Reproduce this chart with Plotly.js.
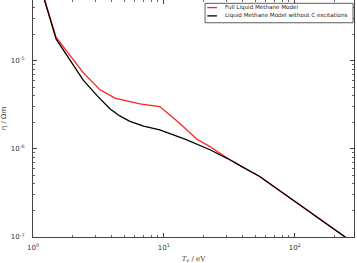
<!DOCTYPE html>
<html>
<head>
<meta charset="utf-8">
<script src="https://cdn.plot.ly/plotly-3.0.1.min.js"></script>
<style>
html,body{margin:0;padding:0;background:#fff;}
#chart{width:357px;height:263px;}
</style>
</head>
<body>
<div id="chart"></div>
<script>
// Data
var seriesNames = ["Full Liquid Methane Model", "Liquid Methane Model without C excitations"];

var tFull   = [1, 1.5, 2.42, 3.25, 4.23, 6.56, 9.3, 13.2, 17.8, 22.5, 31, 40, 54, 75, 109, 160, 241, 290];
var etaFull = [1.33e-4, 1.84e-5, 7.3e-6, 4.66e-6, 3.75e-6, 3.24e-6, 3.01e-6, 1.95e-6, 1.29e-6, 1.06e-6, 7.7e-7, 6.2e-7, 4.85e-7, 3.44e-7, 2.32e-7, 1.57e-7, 1.0e-7, 8.3e-8];

var tNoC   = [1, 1.5, 2.42, 3.1, 3.87, 4.6, 5.5, 7, 9.3, 14.5, 22.5, 31, 40, 54, 75, 109, 160, 241, 290];
var etaNoC = [1.33e-4, 1.76e-5, 6.0e-6, 3.98e-6, 2.85e-6, 2.36e-6, 2.05e-6, 1.81e-6, 1.64e-6, 1.29e-6, 9.75e-7, 7.7e-7, 6.2e-7, 4.85e-7, 3.44e-7, 2.32e-7, 1.57e-7, 1.0e-7, 8.3e-8];

var xTickVals = [1, 10, 100];
var xTickText = ["10<sup>0</sup>", "10<sup>1</sup>", "10<sup>2</sup>"];
var xMinorVals = [2,3,4,5,6,7,8,9,20,30,40,50,60,70,80,90,200];
var yTickVals = [1e-7, 1e-6, 1e-5];
var yTickText = ["10<sup>-7</sup>", "10<sup>-6</sup>", "10<sup>-5</sup>"];
var yMinorVals = [2e-7,3e-7,4e-7,5e-7,6e-7,7e-7,8e-7,9e-7,2e-6,3e-6,4e-6,5e-6,6e-6,7e-6,8e-6,9e-6,2e-5,3e-5,4e-5];

var xTitle = "<i>T</i><sub>e</sub> / eV";
var yTitle = "η / Ωm";
var colors = ["#ff2020", "#000000"];

var traces = [
  {x: tFull, y: etaFull, type: "scatter", mode: "lines", name: seriesNames[0],
   line: {color: colors[0], width: 1.3}},
  {x: tNoC, y: etaNoC, type: "scatter", mode: "lines", name: seriesNames[1],
   line: {color: colors[1], width: 1.3}}
];

var axisCommon = {
  type: "log",
  showgrid: false,
  zeroline: false,
  showline: true,
  linecolor: "#444",
  linewidth: 1,
  mirror: "allticks",
  ticks: "inside",
  ticklen: 4,
  tickcolor: "#444",
  tickmode: "array",
  tickfont: {family: "DejaVu Sans", size: 7, color: "#333"}
};

var xaxis = Object.assign({}, axisCommon, {
  range: [0, 2.453],
  tickvals: xTickVals, ticktext: xTickText,
  ticklabelstandoff: 4,
  minor: {tickmode: "array", tickvals: xMinorVals, ticks: "inside", ticklen: 2, tickcolor: "#666", showgrid: false},
  title: {text: xTitle, font: {family: "DejaVu Serif", size: 7, color: "#333"}, standoff: 6}
});
var yaxis = Object.assign({}, axisCommon, {
  range: [-7, -4.313],
  tickvals: yTickVals, ticktext: yTickText,
  ticklabelstandoff: 6,
  minor: {tickmode: "array", tickvals: yMinorVals, ticks: "inside", ticklen: 2, tickcolor: "#666", showgrid: false},
  title: {text: yTitle, font: {family: "DejaVu Sans", size: 7, color: "#333"}, standoff: 4}
});

// legend drawn in paper coordinates, matplotlib style
var legendShapes = [
  {type: "rect", xref: "paper", yref: "paper", x0: 0.536, x1: 0.997, y0: 0.904, y1: 0.986,
   line: {color: "#333", width: 0.8}, fillcolor: "#fff"},
  {type: "line", xref: "paper", yref: "paper", x0: 0.543, x1: 0.573, y0: 0.968, y1: 0.968,
   line: {color: colors[0], width: 1.3}},
  {type: "line", xref: "paper", yref: "paper", x0: 0.543, x1: 0.573, y0: 0.933, y1: 0.933,
   line: {color: colors[1], width: 1.3}}
];
var legendAnn = [
  {xref: "paper", yref: "paper", x: 0.592, y: 0.968, xanchor: "left", yanchor: "middle",
   text: seriesNames[0], showarrow: false, font: {family: "DejaVu Sans", size: 5.6, color: "#222"}},
  {xref: "paper", yref: "paper", x: 0.592, y: 0.933, xanchor: "left", yanchor: "middle",
   text: seriesNames[1], showarrow: false, font: {family: "DejaVu Sans", size: 5.6, color: "#222"}}
];

var layout = {
  width: 357, height: 263,
  margin: {l: 33, r: 3, t: 0, b: 26, pad: 0},
  paper_bgcolor: "#fff", plot_bgcolor: "#fff",
  showlegend: false,
  xaxis: xaxis, yaxis: yaxis,
  shapes: legendShapes,
  annotations: legendAnn
};

Plotly.newPlot("chart", traces, layout, {staticPlot: true, displayModeBar: false});
</script>
</body>
</html>
